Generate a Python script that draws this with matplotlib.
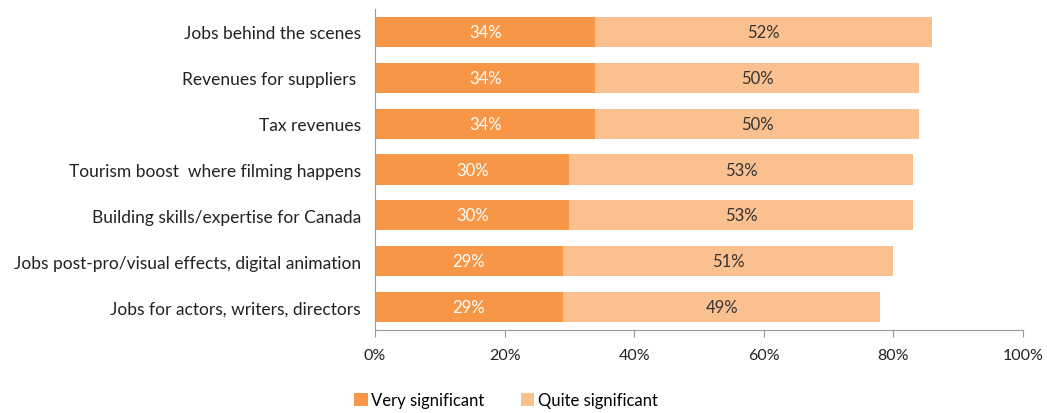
import matplotlib
matplotlib.use("Agg")
import matplotlib.pyplot as plt
import numpy as np

categories = ["Jobs behind the scenes", "Revenues for suppliers ", "Tax revenues",
              "Tourism boost  where filming happens", "Building skills/expertise for Canada",
              "Jobs post-pro/visual effects, digital animation", "Jobs for actors, writers, directors"]
very = [34, 34, 34, 30, 30, 29, 29]
quite = [52, 50, 50, 53, 53, 51, 49]
xticks = [0, 20, 40, 60, 80, 100]

plt.rcParams['font.family'] = ['Lato', 'DejaVu Sans']

fig = plt.figure(figsize=(10.47, 4.14), dpi=100)
ax = fig.add_axes([375/1047, 1-331/414, (1023-375)/1047, 321/414])

c1 = '#F79646'
c2 = '#FAC090'
y = np.arange(len(categories))
h = 0.66
ax.barh(y, very, height=h, color=c1, label='Very significant')
ax.barh(y, quite, left=very, height=h, color=c2, label='Quite significant')
for yi, v, q in zip(y, very, quite):
    ax.text(v/2, yi, f"{v}%", ha='center', va='center', color='white', fontsize=12)
    ax.text(v + q/2, yi, f"{q}%", ha='center', va='center', color='#333333', fontsize=12)

ax.set_xlim(0, 100)
ax.set_ylim(6.5, -0.5)
ax.set_yticks(y)
ax.set_yticklabels(categories, fontsize=12.5, color='#222222')
ax.set_xticks(xticks)
ax.set_xticklabels([f"{t}%" for t in xticks], fontsize=11.5, color='#222222')
ax.tick_params(axis='y', length=0, pad=10)
ax.tick_params(axis='x', length=5, color='#999999', pad=8)
for s in ['top', 'right']:
    ax.spines[s].set_visible(False)
ax.spines['left'].set_color('#999999')
ax.spines['bottom'].set_color('#999999')

fig.legend(loc='center', bbox_to_anchor=(506/1047, 1-401/414), ncol=2, frameon=False,
           fontsize=12, handlelength=0.8, handleheight=0.8, handletextpad=0.2, columnspacing=2.2)

fig.savefig('out.png', dpi=100)
